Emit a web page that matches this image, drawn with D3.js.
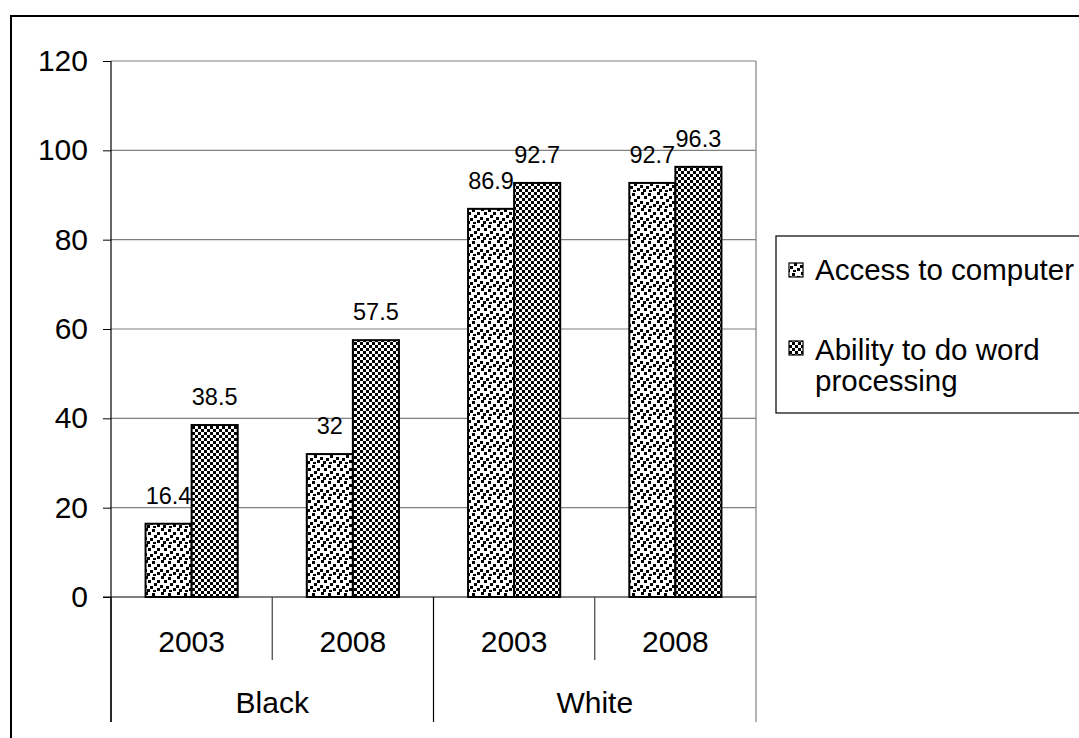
<!DOCTYPE html>
<html>
<head>
<meta charset="utf-8">
<script src="https://cdn.jsdelivr.net/npm/d3@7"></script>
<style>
  html, body { margin: 0; padding: 0; background: #fff; }
  svg { display: block; font-family: "Liberation Sans", Arial, sans-serif; }
</style>
</head>
<body>
<svg id="chart" width="1079" height="738"></svg>
<script>
// Categories: year within race group
const groups = ["Black", "White"];
const years = ["2003", "2008"];
const categories = ["Black 2003", "Black 2008", "White 2003", "White 2008"];
const seriesNames = ["Access to computer", "Ability to do word processing"];
const accessValues = [16.4, 32, 86.9, 92.7];
const abilityValues = [38.5, 57.5, 92.7, 96.3];
const yTicks = [0, 20, 40, 60, 80, 100, 120];

const svg = d3.select("#chart");
const plot = { left: 111, right: 756, top: 61, bottom: 597 };
const axisFont = 30;
const legendFont = 29.5;
const valueFont = 23.5;

// Fill patterns: scattered confetti squares and a fine checkerboard
const defs = svg.append("defs");
const confetti = defs.append("pattern")
  .attr("id", "pat-access").attr("patternUnits", "userSpaceOnUse")
  .attr("width", 16).attr("height", 16);
confetti.append("rect").attr("width", 16).attr("height", 16).attr("fill", "#fff");
[[1, 0], [8, 1], [13, 4], [4, 4], [10, 7], [0, 9], [6, 10], [13, 12], [3, 13], [9, 14]].forEach(([x, y]) => {
  confetti.append("rect").attr("x", x).attr("y", y).attr("width", 3).attr("height", 3).attr("fill", "#000");
});
const checker = defs.append("pattern")
  .attr("id", "pat-ability").attr("patternUnits", "userSpaceOnUse")
  .attr("width", 6).attr("height", 6);
checker.append("rect").attr("width", 6).attr("height", 6).attr("fill", "#fff");
checker.append("rect").attr("width", 3).attr("height", 3).attr("fill", "#000");
checker.append("rect").attr("x", 3).attr("y", 3).attr("width", 3).attr("height", 3).attr("fill", "#000");
const fills = ["url(#pat-access)", "url(#pat-ability)"];

// Outer chart frame
svg.append("rect")
  .attr("x", 11).attr("y", 16).attr("width", 1100).attr("height", 760)
  .attr("fill", "none").attr("stroke", "#000").attr("stroke-width", 2);

// Scales
const x0 = d3.scaleBand().domain(categories).range([plot.left, plot.right]).padding(0);
const x1 = d3.scaleBand().domain(seriesNames).range([0, x0.bandwidth()])
  .paddingInner(0).paddingOuter(0.75);
const y = d3.scaleLinear().domain([0, 120]).range([plot.bottom, plot.top]);

// Gridlines
svg.append("g").selectAll("line").data(yTicks.filter(d => d > 0)).join("line")
  .attr("x1", plot.left).attr("x2", plot.right)
  .attr("y1", d => y(d)).attr("y2", d => y(d))
  .attr("stroke", "#808080").attr("stroke-width", 1.2);
// Plot area right border
svg.append("line")
  .attr("x1", plot.right).attr("x2", plot.right)
  .attr("y1", plot.top).attr("y2", plot.bottom)
  .attr("stroke", "#808080").attr("stroke-width", 1.2);

// Y axis
const yAxis = svg.append("g").attr("transform", `translate(${plot.left},0)`)
  .call(d3.axisLeft(y).tickValues(yTicks).tickSize(8).tickPadding(15));
yAxis.select(".domain").remove();
yAxis.selectAll(".tick line").attr("stroke", "#000");
yAxis.selectAll(".tick text").attr("font-size", axisFont).attr("fill", "#000")
  .attr("font-family", "Liberation Sans, Arial, sans-serif");
svg.append("line")
  .attr("x1", plot.left).attr("x2", plot.left)
  .attr("y1", plot.top).attr("y2", 722)
  .attr("stroke", "#000").attr("stroke-width", 1.2);

// Bars
const series = [accessValues, abilityValues];
const barG = svg.append("g");
series.forEach((vals, si) => {
  barG.append("g").selectAll("rect").data(vals).join("rect")
    .attr("x", (d, i) => x0(categories[i]) + x1(seriesNames[si]))
    .attr("y", d => y(d))
    .attr("width", x1.bandwidth())
    .attr("height", d => y(0) - y(d))
    .attr("fill", fills[si])
    .attr("stroke", "#000").attr("stroke-width", 2);
});

// Value labels
series.forEach((vals, si) => {
  svg.append("g").selectAll("text").data(vals).join("text")
    .attr("x", (d, i) => x0(categories[i]) + x1(seriesNames[si]) + x1.bandwidth() / 2)
    .attr("y", d => y(d) - 20)
    .attr("text-anchor", "middle")
    .attr("font-size", valueFont).attr("fill", "#000")
    .text(d => d);
});

// X axis baseline
svg.append("line")
  .attr("x1", plot.left - 8).attr("x2", plot.right)
  .attr("y1", plot.bottom).attr("y2", plot.bottom)
  .attr("stroke", "#000").attr("stroke-width", 1.2);

// Year-level separators and labels
const xAxis = svg.append("g");
categories.forEach((c, i) => {
  const isGroupEdge = i % 2 === 0;
  xAxis.append("line")
    .attr("x1", x0(c)).attr("x2", x0(c))
    .attr("y1", plot.bottom).attr("y2", isGroupEdge ? 722 : 660)
    .attr("stroke", isGroupEdge ? "#000" : "#404040").attr("stroke-width", 1.2);
  xAxis.append("text")
    .attr("x", x0(c) + x0.bandwidth() / 2).attr("y", 652)
    .attr("text-anchor", "middle").attr("font-size", axisFont)
    .text(years[i % 2]);
});
xAxis.append("line")
  .attr("x1", plot.right).attr("x2", plot.right)
  .attr("y1", plot.bottom).attr("y2", 722)
  .attr("stroke", "#808080").attr("stroke-width", 1.2);
groups.forEach((g, gi) => {
  const start = x0(categories[gi * 2]);
  xAxis.append("text")
    .attr("x", start + x0.bandwidth()).attr("y", 713)
    .attr("text-anchor", "middle").attr("font-size", axisFont)
    .text(g);
});

// Legend
const legend = svg.append("g");
legend.append("rect")
  .attr("x", 776).attr("y", 236).attr("width", 320).attr("height", 177)
  .attr("fill", "#fff").attr("stroke", "#000").attr("stroke-width", 1.2);
const legendItems = [
  { fill: fills[0], lines: ["Access to computer"], markerY: 263, textY: 280 },
  { fill: fills[1], lines: ["Ability to do word", "processing"], markerY: 341, textY: 360 }
];
legendItems.forEach(item => {
  legend.append("rect")
    .attr("x", 789).attr("y", item.markerY).attr("width", 14).attr("height", 14)
    .attr("fill", item.fill).attr("stroke", "#000").attr("stroke-width", 1.2);
  const t = legend.append("text").attr("x", 815).attr("y", item.textY).attr("font-size", legendFont);
  item.lines.forEach((ln, li) => {
    t.append("tspan").attr("x", 815).attr("dy", li === 0 ? 0 : 31).text(ln);
  });
});
</script>
</body>
</html>
